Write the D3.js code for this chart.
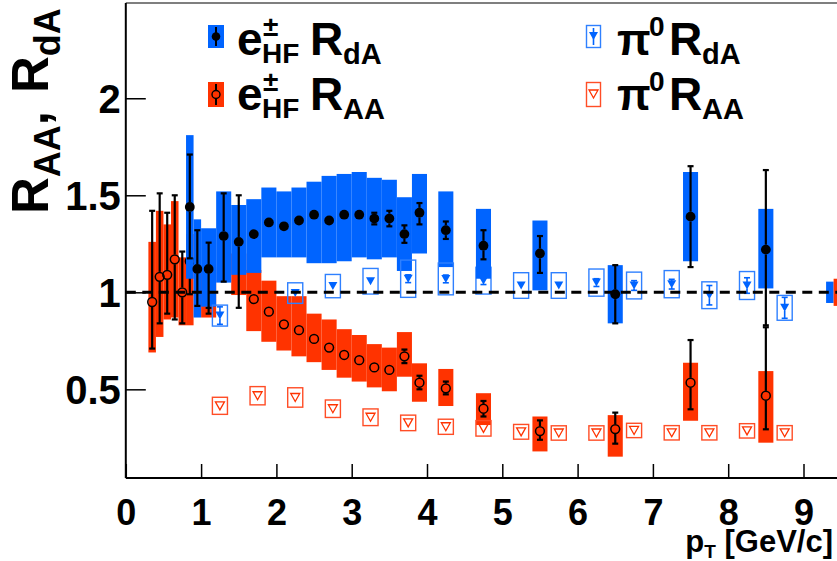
<!DOCTYPE html>
<html>
<head>
<meta charset="utf-8">
<script src="https://cdn.jsdelivr.net/npm/d3@7"></script>
<style>
body { margin: 0; background: #fff; }
text { font-family: "Liberation Sans", Arial, sans-serif; font-weight: bold; fill: #000; }
</style>
</head>
<body>
<svg id="chart" width="837" height="561"></svg>
<script>
// e+- HF R_dA (blue boxes, black dots)
var eDAx      = [0.85, 0.95, 1.1, 1.3, 1.5, 1.7, 1.9, 2.1, 2.3, 2.5, 2.7, 2.9, 3.1, 3.3, 3.5, 3.7, 3.9, 4.25, 4.75, 5.5, 6.5, 7.5, 8.5];
var eDAy      = [1.44, 1.12, 1.12, 1.29, 1.26, 1.30, 1.36, 1.34, 1.37, 1.40, 1.37, 1.40, 1.40, 1.38, 1.38, 1.30, 1.41, 1.32, 1.24, 1.20, 0.99, 1.39, 1.22];
var eDAstatLo = [0.265, 0.19, 0.23, 0.235, 0.34, 0.01, 0.01, 0.01, 0.01, 0.01, 0.01, 0.01, 0.01, 0.03, 0.04, 0.045, 0.06, 0.045, 0.07, 0.10, 0.15, 0.26, 0.39];
var eDAstatHi = [0.27, 0.20, 0.136, 0.22, 0.24, 0.01, 0.01, 0.01, 0.01, 0.01, 0.01, 0.01, 0.01, 0.03, 0.04, 0.045, 0.05, 0.045, 0.08, 0.09, 0.15, 0.26, 0.41];
var eDAsysLo  = [1.07, 0.87, 0.926, 1.05, 1.09, 1.10, 1.18, 1.18, 1.18, 1.15, 1.15, 1.16, 1.18, 1.17, 1.18, 1.11, 1.20, 1.13, 1.07, 1.01, 0.84, 1.16, 1.02];
var eDAsysHi  = [1.81, 1.376, 1.33, 1.52, 1.45, 1.48, 1.54, 1.52, 1.54, 1.57, 1.60, 1.61, 1.62, 1.59, 1.58, 1.49, 1.61, 1.52, 1.43, 1.37, 1.14, 1.62, 1.43];

// e+- HF R_AA (red boxes, open circles)
var eAAx      = [0.35, 0.45, 0.55, 0.65, 0.75, 0.85, 1.1, 1.5, 1.7, 1.9, 2.1, 2.3, 2.5, 2.7, 2.9, 3.1, 3.3, 3.5, 3.7, 3.9, 4.25, 4.75, 5.5, 6.5, 7.5, 8.5];
var eAAy      = [0.95, 1.08, 1.09, 1.17, 1.00, 1.16, 1.00, 1.15, 0.965, 0.90, 0.835, 0.805, 0.76, 0.715, 0.677, 0.65, 0.613, 0.60, 0.67, 0.534, 0.505, 0.40, 0.285, 0.295, 0.534, 0.467];
var eAAstatLo = [0.24, 0.24, 0.20, 0.31, 0.16, 0.17, 0.08, 0.05, 0.01, 0.01, 0.01, 0.01, 0.01, 0.01, 0.01, 0.01, 0.01, 0.01, 0.035, 0.034, 0.031, 0.04, 0.045, 0.075, 0.137, 0.173];
var eAAstatHi = [0.47, 0.43, 0.32, 0.33, 0.21, 0.17, 0.08, 0.05, 0.01, 0.01, 0.01, 0.01, 0.01, 0.01, 0.01, 0.01, 0.01, 0.01, 0.035, 0.036, 0.035, 0.04, 0.055, 0.085, 0.22, 0.353];
var eAAsysLo  = [0.69, 0.77, 0.86, 0.87, 0.83, 0.83, 0.87, 0.986, 0.80, 0.745, 0.70, 0.67, 0.64, 0.60, 0.56, 0.54, 0.51, 0.49, 0.565, 0.436, 0.414, 0.316, 0.18, 0.153, 0.338, 0.225];
var eAAsysHi  = [1.26, 1.42, 1.35, 1.47, 1.18, 1.30, 1.13, 1.20, 1.115, 1.06, 0.98, 0.98, 0.89, 0.86, 0.81, 0.78, 0.733, 0.715, 0.795, 0.634, 0.605, 0.48, 0.36, 0.367, 0.637, 0.594];

// pi0 R_dA (blue open boxes, filled triangles)
var piDAx    = [1.25, 2.25, 2.75, 3.25, 3.75, 4.25, 4.75, 5.25, 5.75, 6.25, 6.75, 7.25, 7.75, 8.25, 8.75];
var piDAy    = [0.88, 0.996, 1.032, 1.057, 1.07, 1.069, 1.06, 1.035, 1.035, 1.05, 1.035, 1.042, 0.985, 1.035, 0.92];
var piDAstat = [0.045, 0.015, 0.015, 0.015, 0.02, 0.02, 0.02, 0.015, 0.015, 0.02, 0.025, 0.025, 0.05, 0.04, 0.054];
var piDAsys  = [0.054, 0.053, 0.06, 0.066, 0.096, 0.082, 0.069, 0.066, 0.066, 0.07, 0.069, 0.07, 0.069, 0.072, 0.064];

// pi0 R_AA (red open boxes, open triangles)
var piAAx   = [1.25, 1.75, 2.25, 2.75, 3.25, 3.75, 4.25, 4.75, 5.25, 5.75, 6.25, 6.75, 7.25, 7.75, 8.25, 8.75];
var piAAy   = [0.415, 0.467, 0.458, 0.40, 0.356, 0.327, 0.307, 0.299, 0.281, 0.275, 0.275, 0.288, 0.276, 0.276, 0.286, 0.276];
var piAAsys = [0.044, 0.047, 0.05, 0.045, 0.043, 0.04, 0.039, 0.04, 0.038, 0.037, 0.037, 0.037, 0.037, 0.037, 0.037, 0.037];

// global normalisation uncertainties
var normDA = 0.055, normAA = 0.07;

var xTicks = [0, 1, 2, 3, 4, 5, 6, 7, 8, 9];
var yTicks = [0.5, 1, 1.5, 2];

var BLUE = "#0064ff", RED = "#ff3300", LBLUE = "#2f80ff", LRED = "#ff4d26";
var R = 4.9;

var svg = d3.select("#chart");
var x = d3.scaleLinear().domain([0, 10]).range([125.8, 878.8]);
var y = d3.scaleLinear().domain([0.043, 2.491]).range([478, 3]);

var halfW = function(v){ return v < 1 ? 0.05 : 0.1; };

var eRows = function(xs, ys, lo, hi, sLo, sHi){
    return xs.map(function(v, i){
	return {x: v, y: ys[i], lo: lo[i], hi: hi[i], sLo: sLo[i], sHi: sHi[i]};
    });
};
var eDA = eRows(eDAx, eDAy, eDAstatLo, eDAstatHi, eDAsysLo, eDAsysHi);
var eAA = eRows(eAAx, eAAy, eAAstatLo, eAAstatHi, eAAsysLo, eAAsysHi);
var piDA = piDAx.map(function(v, i){ return {x: v, y: piDAy[i], lo: piDAstat[i], hi: piDAstat[i], s: piDAsys[i]}; });
var piAA = piAAx.map(function(v, i){ return {x: v, y: piAAy[i], s: piAAsys[i]}; });

var boxes = function(data, color){
    svg.append("g").selectAll("rect").data(data).enter().append("rect")
	.attr("x", function(d){ return x(d.x - halfW(d.x)); })
	.attr("width", function(d){ return x(d.x + halfW(d.x)) - x(d.x - halfW(d.x)); })
	.attr("y", function(d){ return y(d.sHi); })
	.attr("height", function(d){ return y(d.sLo) - y(d.sHi); })
	.attr("fill", color);
};

var errors = function(data, color, w, gap){
    var g = svg.append("g").attr("stroke", color).attr("stroke-width", w);
    data.forEach(function(d){
	var cx = x(d.x), cy = y(d.y), top = y(d.y + d.hi), bot = y(d.y - d.lo);
	if (cy - top > gap) {
	    g.append("line").attr("x1", cx).attr("x2", cx).attr("y1", top).attr("y2", cy - gap);
	    g.append("line").attr("x1", cx - 3).attr("x2", cx + 3).attr("y1", top).attr("y2", top);
	}
	if (bot - cy > gap) {
	    g.append("line").attr("x1", cx).attr("x2", cx).attr("y1", cy + gap).attr("y2", bot);
	    g.append("line").attr("x1", cx - 3).attr("x2", cx + 3).attr("y1", bot).attr("y2", bot);
	}
    });
};

var dots = function(data, open){
    svg.append("g").selectAll("circle").data(data).enter().append("circle")
	.attr("cx", function(d){ return x(d.x); })
	.attr("cy", function(d){ return y(d.y); })
	.attr("r", open ? R - 0.5 : R)
	.attr("fill", open ? "none" : "#000")
	.attr("stroke", "#000")
	.attr("stroke-width", open ? 1.5 : 0);
};

var tri = function(cx, cy){
    return "M" + (cx - 4.5) + "," + (cy - 4) + "L" + (cx + 4.5) + "," + (cy - 4) + "L" + cx + "," + (cy + 4) + "Z";
};

var piBoxes = function(data, color){
    svg.append("g").selectAll("rect").data(data).enter().append("rect")
	.attr("x", function(d){ return x(d.x - 0.1); })
	.attr("width", function(d){ return x(d.x + 0.1) - x(d.x - 0.1); })
	.attr("y", function(d){ return y(d.y + d.s); })
	.attr("height", function(d){ return y(d.y - d.s) - y(d.y + d.s); })
	.attr("fill", "none").attr("stroke", color).attr("stroke-width", 1.4);
};

var lowP = function(d){ return d.x < 4.5; };
var highP = function(d){ return d.x >= 4.5; };

// e R_AA first, then low-pT e R_dA over it
boxes(eAA, RED);
errors(eAA, "#000", 2.2, R);
dots(eAA, true);
boxes(eDA.filter(lowP), BLUE);
errors(eDA.filter(lowP), "#000", 2.2, R);
dots(eDA.filter(lowP), false);

// pi0 R_AA
piBoxes(piAA, LRED);
svg.append("g").selectAll("path").data(piAA).enter().append("path")
    .attr("d", function(d){ return tri(x(d.x), y(d.y)); })
    .attr("fill", "none").attr("stroke", RED).attr("stroke-width", 1.3);

// pi0 R_dA
piBoxes(piDA, LBLUE);
errors(piDA, BLUE, 1.6, 3);
svg.append("g").selectAll("path").data(piDA).enter().append("path")
    .attr("d", function(d){ return tri(x(d.x), y(d.y)); })
    .attr("fill", BLUE);

// high-pT e R_dA boxes
boxes(eDA.filter(highP), BLUE);

// normalisation boxes at right edge
svg.append("rect").attr("x", x(9.3)).attr("width", x(9.4) - x(9.3))
    .attr("y", y(1 + normDA)).attr("height", y(1 - normDA) - y(1 + normDA)).attr("fill", BLUE);
svg.append("rect").attr("x", x(9.4)).attr("width", x(9.5) - x(9.4))
    .attr("y", y(1 + normAA)).attr("height", y(1 - normAA) - y(1 + normAA)).attr("fill", RED);

// unity line
svg.append("line").attr("x1", x(0)).attr("x2", 837).attr("y1", y(1)).attr("y2", y(1))
    .attr("stroke", "#000").attr("stroke-width", 3).attr("stroke-dasharray", "10,6.5");

errors(eDA.filter(highP), "#000", 2.2, R);
dots(eDA.filter(highP), false);

// frame and axes
svg.append("line").attr("x1", x(0)).attr("x2", 837).attr("y1", 3).attr("y2", 3)
    .attr("stroke", "#000").attr("stroke-width", 1.2);

var xMinor = d3.range(0, 9.5, 0.2);
var yMinor = d3.range(0.1, 2.45, 0.1);

var xa = svg.append("g").attr("transform", "translate(0,478)");
xa.call(d3.axisBottom(x).tickValues(xMinor).tickSize(-7).tickFormat(""));
xa.call(d3.axisBottom(x).tickValues(xTicks).tickSize(-14).tickPadding(0).tickFormat(d3.format("d")));
xa.select(".domain").remove();
xa.selectAll("line").attr("stroke", "#000").attr("stroke-width", 1.5);
xa.selectAll("text").attr("y", 47).attr("dy", null)
    .style("font-size", "36px").style("font-family", "Liberation Sans, Arial, sans-serif").style("font-weight", "bold");

var ya = svg.append("g").attr("transform", "translate(" + x(0) + ",0)");
ya.call(d3.axisLeft(y).tickValues(yMinor).tickSize(-10).tickFormat(""));
ya.call(d3.axisLeft(y).tickValues(yTicks).tickSize(-20).tickPadding(0).tickFormat(d3.format("")));
ya.select(".domain").remove();
ya.selectAll("line").attr("stroke", "#000").attr("stroke-width", 1.5);
ya.selectAll("text").attr("x", -5).attr("dy", "0.36em")
    .style("font-size", "40px").style("font-family", "Liberation Sans, Arial, sans-serif").style("font-weight", "bold");

svg.append("line").attr("x1", x(0)).attr("x2", x(0)).attr("y1", 3).attr("y2", 478)
    .attr("stroke", "#000").attr("stroke-width", 2);
svg.append("line").attr("x1", x(0)).attr("x2", 837).attr("y1", 478).attr("y2", 478)
    .attr("stroke", "#000").attr("stroke-width", 2);

// axis titles
var xt = svg.append("text").attr("x", 833).attr("y", 552).attr("text-anchor", "end").style("font-size", "31px");
xt.append("tspan").text("p");
xt.append("tspan").attr("dy", 6).style("font-size", "19px").text("T");
xt.append("tspan").attr("dy", -6).text(" [GeV/c]");

var yt = svg.append("text").attr("transform", "translate(48,214) rotate(-90)").style("font-size", "51px");
yt.append("tspan").text("R");
yt.append("tspan").attr("dy", 12).style("font-size", "36px").text("AA");
yt.append("tspan").attr("dy", -12).text(",");
yt.append("tspan").attr("dx", 18).text("R");
yt.append("tspan").attr("dy", 12).style("font-size", "36px").text("dA");

// legend
var leg = svg.append("g");
var legText = function(gx, base, main, sup, sub, sub2){
    leg.append("text").attr("x", gx).attr("y", base).style("font-size", main === "e" ? "46px" : "44px").text(main);
    var w = main === "e" ? 26 : 32;
    leg.append("text").attr("x", gx + w).attr("y", base - 19).style("font-size", "28px").text(sup);
    if (sub) leg.append("text").attr("x", gx + w - 1).attr("y", base + 8).style("font-size", "28px").text(sub);
    var rx = main === "e" ? gx + 73 : gx + 52;
    leg.append("text").attr("x", rx).attr("y", base).style("font-size", "46px").text("R");
    leg.append("text").attr("x", rx + 33).attr("y", base + 9).style("font-size", "29px").text(sub2);
};
legText(237, 55, "e", "\u00b1", "HF", "dA");
legText(237, 110, "e", "\u00b1", "HF", "AA");
legText(617, 55, "\u03c0", "0", null, "dA");
legText(617, 110, "\u03c0", "0", null, "AA");

leg.append("rect").attr("x", 208).attr("y", 25).attr("width", 16).attr("height", 23).attr("fill", BLUE);
leg.append("line").attr("x1", 216).attr("x2", 216).attr("y1", 27).attr("y2", 46).attr("stroke", "#000").attr("stroke-width", 2);
leg.append("circle").attr("cx", 216).attr("cy", 36.5).attr("r", 4.3).attr("fill", "#000");
leg.append("rect").attr("x", 208).attr("y", 82).attr("width", 16).attr("height", 25).attr("fill", RED);
leg.append("line").attr("x1", 216).attr("x2", 216).attr("y1", 84).attr("y2", 105).attr("stroke", "#000").attr("stroke-width", 2);
leg.append("circle").attr("cx", 216).attr("cy", 94.5).attr("r", 4).attr("fill", RED).attr("stroke", "#000").attr("stroke-width", 1.4);

leg.append("rect").attr("x", 586.5).attr("y", 25.5).attr("width", 14).attr("height", 22)
    .attr("fill", "none").attr("stroke", LBLUE).attr("stroke-width", 1.4);
leg.append("line").attr("x1", 593.5).attr("x2", 593.5).attr("y1", 28).attr("y2", 45).attr("stroke", BLUE).attr("stroke-width", 1.6);
leg.append("path").attr("d", tri(593.5, 36)).attr("fill", BLUE);
leg.append("rect").attr("x", 586.5).attr("y", 82.5).attr("width", 14).attr("height", 24)
    .attr("fill", "none").attr("stroke", LRED).attr("stroke-width", 1.4);
leg.append("path").attr("d", tri(593.5, 94)).attr("fill", "none").attr("stroke", RED).attr("stroke-width", 1.3);
</script>
</body>
</html>
